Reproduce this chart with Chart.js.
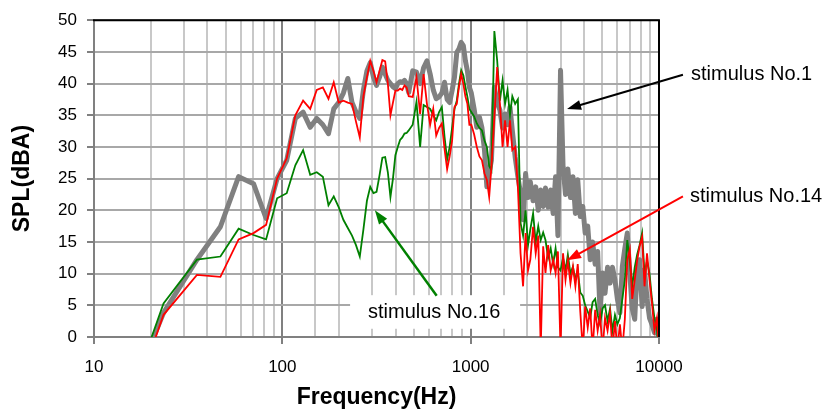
<!DOCTYPE html>
<html>
<head>
<meta charset="utf-8">
<script src="https://cdn.jsdelivr.net/npm/chart.js@4.4.1/dist/chart.umd.min.js"></script>
<style>
  html, body { margin: 0; padding: 0; background: #fff; }
  #wrap { width: 836px; height: 415px; }
</style>
</head>
<body>
<div id="wrap"><canvas id="splChart" width="836" height="415"></canvas></div>
<script>
// FFT bin centres in Hz (48 kHz / 4096 bins), thinned out above 470 Hz
const freqs = [
  11.7, 23.4, 35.2, 46.9, 58.6, 70.3, 82.0, 93.8, 105.5, 117.2,
  128.9, 140.6, 152.3, 164.1, 175.8, 187.5, 199.2, 210.9, 222.7, 234.4,
  246.1, 257.8, 269.5, 281.3, 293.0, 304.7, 316.4, 328.1, 339.8, 351.6,
  363.3, 375.0, 386.7, 398.4, 410.2, 421.9, 433.6, 445.3, 457.0, 468.8,
  492.2, 515.6, 539.1, 562.5, 585.9, 609.4, 632.8, 656.3, 679.7, 703.1,
  726.6, 750.0, 773.4, 796.9, 820.3, 843.8, 867.2, 890.6, 914.1, 937.5,
  960.9, 984.4,
  1008, 1043, 1078, 1113, 1148, 1184, 1219, 1254, 1289, 1336,
  1383, 1430, 1477, 1523, 1570, 1617, 1664, 1723, 1781, 1840,
  1898, 1957, 2016, 2074, 2145, 2215, 2285, 2355, 2426, 2496,
  2578, 2660, 2742, 2824, 2906, 3000, 3094, 3188, 3281, 3387,
  3492, 3598, 3703, 3820, 3938, 4055, 4184, 4313, 4441, 4582,
  4723, 4863, 5016, 5168, 5332, 5496, 5660, 5836, 6012, 6199,
  6387, 6586, 6785, 6996, 7207, 7430, 7652, 7887, 8133, 8379,
  8637, 8906, 9176, 9457, 9750, 9996
];

// stimulus No.1 (grey)
const spl1 = [
  -18, 3.8, 12.2, 17.4, 25.3, 24.2, 18.7, 25.0, 27.9, 34.5,
  35.5, 33.1, 34.5, 33.5, 32.1, 36.0, 37.0, 38.5, 40.8, 37.0,
  35.5, 34.5, 39.0, 42.0, 43.3, 41.0, 39.7, 41.0, 42.6, 41.5,
  40.5, 40.0, 39.5, 39.2, 40.0, 40.3, 40.2, 40.5, 40.0, 38.6,
  42.0, 41.8, 40.0, 42.5, 43.6, 41.5, 39.0, 37.6, 37.9, 38.5,
  40.2, 37.5, 37.0, 38.9, 41.0, 44.9, 45.5, 46.5, 46.0, 43.6,
  42.0, 39.4,
  38.5, 36.0, 33.1, 34.7, 33.0, 29.5, 23.7, 26.0, 27.9, 39.4,
  37.0, 35.8, 33.0, 35.2, 33.5, 36.3, 32.6, 28.4, 25.3, 22.7,
  18.5, 25.8, 22.0, 24.5, 21.5, 23.7, 20.0, 23.2, 20.6, 23.5,
  20.5, 23.2, 19.5, 25.3, 16.0, 42.1, 26.9, 22.5, 26.5, 22.0,
  25.3, 19.5, 24.8, 19.0, 20.6, 16.4, 17.5, 12.2, 15.0, 11.5,
  13.5, 3.8, 10.1, 6.9, 11.0, 8.5, 11.0, 9.0, 6.0, 3.8,
  11.1, 14.0, 16.4, 10.1, 4.5, 2.8, 10.5, 12.2, 4.8, 10.6,
  6.0, 3.0, 2.0, 0.7, 2.8, -2
];

// stimulus No.14 (red)
const spl14 = [
  -22, 3.5, 9.8, 9.5, 15.4, 16.4, 17.7, 25.0, 28.2, 35.0,
  37.3, 36.0, 39.0, 39.4, 37.6, 40.2, 37.0, 37.3, 37.0, 36.8,
  34.0, 31.5, 38.0, 41.0, 43.6, 42.0, 40.2, 42.0, 43.7, 43.5,
  40.0, 35.0, 37.0, 38.9, 38.9, 39.2, 39.0, 39.7, 39.4, 38.0,
  37.9, 41.0, 35.2, 41.5, 36.8, 33.5, 36.0, 31.8, 33.0, 33.7,
  29.7, 26.5, 28.5, 31.0, 36.3, 36.8, 39.5, 41.5, 40.0, 38.0,
  36.8, 33.5,
  33.5, 32.0, 30.0, 28.5, 27.9, 25.8, 24.8, 22.1, 26.9, 34.7,
  42.6, 36.8, 30.0, 34.2, 30.0, 34.2, 29.5, 30.0, 23.7, 13.2,
  8.0, 16.4, 10.5, 12.2, 17.4, 13.2, 16.0, -2, 14.3, 10.1,
  14.5, 10.5, 12.2, 10.1, 13.5, -2, 13.2, 9.0, 12.0, 8.5,
  11.1, 8.0, 11.5, 4.0, -2, 4.8, 1.5, 4.5, -2, 4.3,
  1.0, 3.5, -2, 3.0, 1.0, 3.8, -2, 2.5, -2, 2.0,
  -2, 2.8, 12.2, 13.8, 6.0, 9.0, 12.0, 14.3, 15.8, 8.0,
  13.2, 9.0, 5.4, 1.0, 3.0, -2
];

// stimulus No.16 (green)
const spl16 = [
  -20, 5.3, 12.2, 12.7, 17.1, 16.1, 15.4, 21.9, 22.7, 27.1,
  29.5, 25.6, 26.0, 25.3, 20.8, 22.2, 20.5, 18.5, 17.2, 16.0,
  14.5, 12.7, 17.0, 21.5, 23.7, 22.7, 22.9, 25.5, 28.3, 28.4,
  26.0, 22.1, 25.0, 28.7, 30.0, 31.1, 31.5, 32.1, 32.2, 32.6,
  33.5, 37.1, 30.0, 36.6, 36.3, 36.0, 35.0, 34.2, 35.5, 36.3,
  31.6, 28.0, 30.0, 33.0, 36.0, 37.3, 40.0, 42.1, 41.3, 39.5,
  37.9, 36.0,
  35.5, 34.8, 33.7, 33.0, 32.6, 31.0, 30.0, 27.0, 26.3, 48.3,
  43.6, 37.3, 40.5, 36.8, 39.0, 35.0, 38.0, 36.8, 37.5, 18.0,
  16.0, 20.0, 14.5, 17.0, 19.5, 15.0, 17.5, 15.3, 16.5, 15.3,
  12.5, 14.0, 11.5, 14.0, 11.0, 10.5, 12.5, 10.5, 13.0, 10.0,
  11.1, 9.0, 10.5, 7.0, 6.5, 5.0, 4.0, 3.0, 5.5, 6.0,
  3.5, 2.0, 4.5, 5.0, 2.5, 4.5, 1.0, 3.5, 2.0, 3.0,
  6.0, 9.0, 15.3, 12.0, 8.0, 11.0, 13.0, 14.5, 16.4, 10.0,
  12.0, 10.0, 6.0, 3.0, 1.0, -2
];

const xLabels = [10, 100, 1000, 10000];
const yMin = 0, yMax = 50, yStep = 5;

// callouts: arrow tip, line start and label position in (Hz, dBA)
const notes = [
  { text: 'stimulus No.1', color: '#000000', tip: [3250, 36.0], from: [13400, 41.4], label: [14800, 41.4] },
  { text: 'stimulus No.14', color: '#ff0000', tip: [3250, 12.1], from: [13400, 22.2], label: [14600, 22.2] },
  { text: 'stimulus No.16', color: '#008000', tip: [310, 20.0], from: [660, 6.5], label: [285, 3.9],
    box: [229, 6.6, 1830, 1.3] }
];

const isDecade = v => xLabels.includes(Math.round(v));
const FONT = '"Liberation Sans", Arial, Helvetica, sans-serif';
Chart.defaults.font.family = FONT;
Chart.defaults.color = '#000';

function toPoints(vals) {
  return freqs.map((f, i) => ({ x: f, y: vals[i] }));
}

function drawArrow(ctx, x1, y1, x2, y2, color, width) {
  const ang = Math.atan2(y2 - y1, x2 - x1);
  const len = 14, half = 5;
  const c = Math.cos(ang), s = Math.sin(ang);
  ctx.strokeStyle = color;
  ctx.fillStyle = color;
  ctx.lineWidth = width;
  ctx.beginPath();
  ctx.moveTo(x1, y1);
  ctx.lineTo(x2 - c * len * 0.8, y2 - s * len * 0.8);
  ctx.stroke();
  ctx.beginPath();
  ctx.moveTo(x2, y2);
  ctx.lineTo(x2 - len * c + half * s, y2 - len * s - half * c);
  ctx.lineTo(x2 - len * c - half * s, y2 - len * s + half * c);
  ctx.closePath();
  ctx.fill();
}

const frameAndNotes = {
  id: 'frameAndNotes',
  afterDatasetsDraw(chart) {
    const { ctx, chartArea: a, scales: { x, y } } = chart;
    ctx.save();
    // black frame on top and right side of the plot area
    ctx.strokeStyle = '#000';
    ctx.lineWidth = 2;
    ctx.beginPath();
    ctx.moveTo(a.left - 1, a.top);
    ctx.lineTo(a.right, a.top);
    ctx.lineTo(a.right, a.bottom);
    ctx.stroke();

    notes.forEach(n => {
      if (n.box) {
        const bx = x.getPixelForValue(n.box[0]), by = y.getPixelForValue(n.box[1]);
        const bx2 = x.getPixelForValue(n.box[2]), by2 = y.getPixelForValue(n.box[3]);
        ctx.fillStyle = '#fff';
        ctx.fillRect(bx, by, bx2 - bx, by2 - by);
      }
      drawArrow(ctx,
        x.getPixelForValue(n.from[0]), y.getPixelForValue(n.from[1]),
        x.getPixelForValue(n.tip[0]), y.getPixelForValue(n.tip[1]),
        n.color, n.box ? 2.5 : 2);
      ctx.fillStyle = '#000';
      ctx.font = '20px ' + FONT;
      ctx.textAlign = 'left';
      ctx.textBaseline = 'middle';
      ctx.fillText(n.text, x.getPixelForValue(n.label[0]), y.getPixelForValue(n.label[1]));
    });
    ctx.restore();
  }
};

new Chart(document.getElementById('splChart'), {
  type: 'line',
  data: {
    datasets: [
      { label: 'stimulus No.14', data: toPoints(spl14), borderColor: '#ff0000', borderWidth: 1.8, order: 1 },
      { label: 'stimulus No.16', data: toPoints(spl16), borderColor: '#008000', borderWidth: 1.8, order: 2 },
      { label: 'stimulus No.1', data: toPoints(spl1), borderColor: '#808080', borderWidth: 5, order: 3,
        borderJoinStyle: 'round', borderCapStyle: 'round' }
    ]
  },
  options: {
    responsive: false,
    animation: false,
    layout: { padding: { left: 0, top: 19, right: 177, bottom: 0 } },
    elements: { point: { radius: 0 }, line: { tension: 0, fill: false } },
    datasets: { line: { clip: 0 } },
    plugins: { legend: { display: false }, tooltip: { enabled: false } },
    scales: {
      x: {
        type: 'logarithmic',
        min: 10,
        max: 10000,
        afterFit: s => { s.height = 78; },
        border: { color: '#808080', width: 2 },
        grid: {
          color: c => isDecade(c.tick.value) ? '#808080' : '#c8c8c8',
          lineWidth: 2,
          tickLength: 7,
          tickWidth: 2,
          tickColor: c => isDecade(c.tick.value) ? '#808080' : 'rgba(0,0,0,0)'
        },
        ticks: {
          autoSkip: false,
          maxRotation: 0,
          padding: 13,
          font: { size: 17 },
          color: '#000',
          callback: v => isDecade(v) ? String(Math.round(v)) : ''
        },
        title: {
          display: true,
          text: 'Frequency(Hz)',
          font: { size: 23, weight: 'bold' },
          color: '#000',
          padding: { top: 0, bottom: 4 }
        }
      },
      y: {
        min: yMin,
        max: yMax,
        afterFit: s => { s.width = 94; },
        border: { color: '#808080', width: 2 },
        grid: { color: '#a8a8a8', lineWidth: 2, tickLength: 7, tickColor: '#808080' },
        ticks: { stepSize: yStep, padding: 10, font: { size: 17 }, color: '#000' },
        title: {
          display: true,
          text: 'SPL(dBA)',
          font: { size: 23, weight: 'bold' },
          color: '#000',
          padding: { top: 9, bottom: 0 }
        }
      }
    }
  },
  plugins: [frameAndNotes]
});
</script>
</body>
</html>
